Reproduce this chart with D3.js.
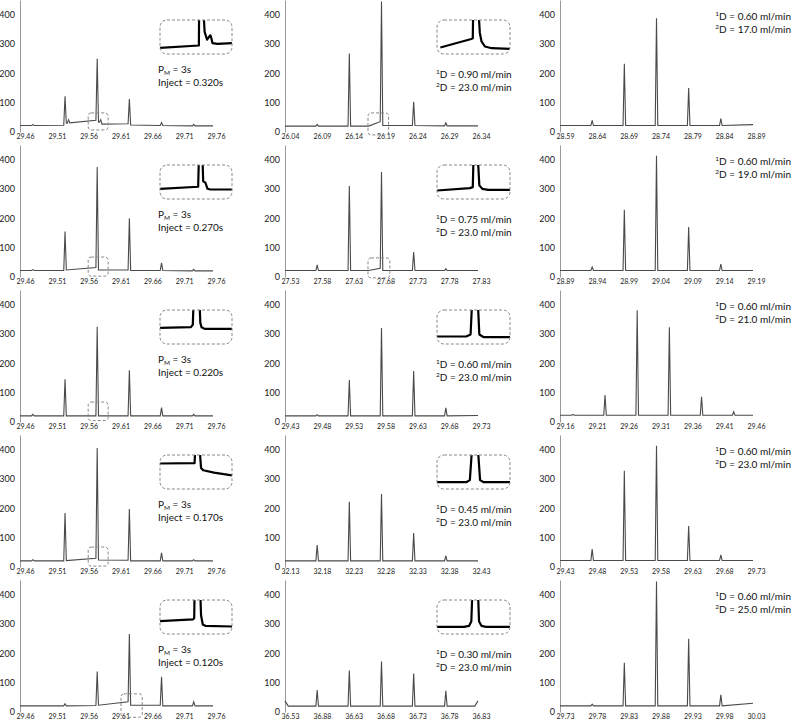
<!DOCTYPE html>
<meta charset="utf-8">
<style>
    body { margin: 0; background: #fff; }
    svg text { font-family: Lato, "Open Sans", sans-serif; fill: #111; }
    .yaxis text { font-size: 9px; fill: #222; }
    .xaxis text { font-family: "Liberation Sans Narrow", Lato, sans-serif; font-size: 7px; fill: #222; }
    .yaxis .domain { stroke: #999; }
    .trace { fill: none; stroke: #4a4a4a; stroke-width: 1.1; }
    .inset-line { fill: none; stroke: #000; stroke-width: 2.2; stroke-linejoin: round; }
    .dash-box { fill: none; stroke: #888; stroke-width: 1; stroke-dasharray: 3,2; }
    .note { font-size: 10px; }
</style>
<body>
<script src="https://d3js.org/d3.v7.min.js"></script>
<script>
// tick values and labels
var yTicks = [0, 100, 200, 300, 400];
var xLabels = [
    ["29.46","29.51","29.56","29.61","29.66","29.71","29.76"],
    ["26.04","26.09","26.14","26.19","26.24","26.29","26.34"],
    ["28.59","28.64","28.69","28.74","28.79","28.84","28.89"],
    ["29.46","29.51","29.56","29.61","29.66","29.71","29.76"],
    ["27.53","27.58","27.63","27.68","27.73","27.78","27.83"],
    ["28.89","28.94","28.99","29.04","29.09","29.14","29.19"],
    ["29.46","29.51","29.56","29.61","29.66","29.71","29.76"],
    ["29.43","29.48","29.53","29.58","29.63","29.68","29.73"],
    ["29.16","29.21","29.26","29.31","29.36","29.41","29.46"],
    ["29.46","29.51","29.56","29.61","29.66","29.71","29.76"],
    ["32.13","32.18","32.23","32.28","32.33","32.38","32.43"],
    ["29.43","29.48","29.53","29.58","29.63","29.68","29.73"],
    ["29.46","29.51","29.56","29.61","29.66","29.71","29.76"],
    ["36.53","36.88","36.63","36.68","36.73","36.78","36.83"],
    ["29.73","29.78","29.83","29.88","29.93","29.98","30.03"]
];

// annotation values
var injectTimes = ["0.320s", "0.270s", "0.220s", "0.170s", "0.120s"];
var flow1D = ["0.90", "0.75", "0.60", "0.45", "0.30"];
var flow2D = ["17.0", "19.0", "21.0", "23.0", "25.0"];

// traces: [time, signal] knots, or [time, apex, left foot, right foot] for a peak
var traceR1C1 = [[29.46,22],[29.48,26,22,22],[29.53,122,23,30],[29.5355,42,30,31],[29.58,250,40,33],[29.5855,42,33,27],[29.63,112,28,24],[29.68,32,22,22],[29.73,26,21,21],[29.76,21]];
var traceR1C2 = [[26.04,20],[26.09,26,20,20],[26.14,268,20,20],[26.17,20],[26.19,445,35,22],[26.24,103,22,22],[26.29,31,21,21],[26.34,21]];
var traceR1C3 = [[28.59,22],[28.64,40,22,22],[28.69,233,22,22],[28.74,388,22,22],[28.79,150,22,22],[28.84,46,22,22],[28.89,25]];
var traceR2C1 = [[29.46,22],[29.48,25,22,22],[29.53,155,22,24],[29.58,375,32,24],[29.63,200,24,22],[29.68,48,22,22],[29.73,26,21,21],[29.76,21]];
var traceR2C2 = [[27.53,22],[27.58,41,22,22],[27.63,310,22,22],[27.66,22],[27.68,358,30,22],[27.73,85,22,22],[27.78,28,22,22],[27.83,22]];
var traceR2C3 = [[28.89,22],[28.94,34,22,22],[28.99,229,22,22],[29.04,413,22,22],[29.09,170,22,22],[29.14,44,22,22],[29.19,22]];
var traceR3C1 = [[29.46,21],[29.48,26,21,21],[29.53,146,21,21],[29.58,325,21,21],[29.63,176,21,21],[29.68,49,21,21],[29.73,26,21,21],[29.76,21]];
var traceR3C2 = [[29.43,21],[29.48,25,21,21],[29.53,143,21,21],[29.58,320,21,21],[29.63,174,21,21],[29.68,48,21,21],[29.73,22]];
var traceR3C3 = [[29.16,23],[29.18,26,23,23],[29.23,92,23,23],[29.28,381,23,23],[29.33,323,23,23],[29.38,86,23,23],[29.43,35,23,23],[29.46,23]];
var traceR4C1 = [[29.46,21],[29.48,25,21,21],[29.53,184,21,22],[29.58,406,30,24],[29.63,198,23,21],[29.68,48,21,21],[29.73,25,21,21],[29.76,21]];
var traceR4C2 = [[32.13,21],[32.18,75,21,21],[32.23,222,21,21],[32.28,249,21,21],[32.33,116,21,21],[32.38,38,21,21],[32.43,21]];
var traceR4C3 = [[29.43,22],[29.48,61,22,22],[29.53,328,22,22],[29.58,413,22,22],[29.63,140,22,22],[29.68,41,22,22],[29.73,22]];
var traceR5C1 = [[29.46,21],[29.53,28,21,21],[29.58,138,22,23],[29.63,266,35,23],[29.68,120,23,21],[29.73,35,21,21],[29.76,21]];
var traceR5C2 = [[36.53,38],[36.535,20],[36.58,75,20,20],[36.63,141,20,20],[36.68,172,20,20],[36.73,131,20,20],[36.78,72,20,20],[36.825,20],[36.83,38]];
var traceR5C3 = [[29.73,21],[29.78,27,21,21],[29.83,168,21,21],[29.88,445,21,21],[29.93,250,21,21],[29.98,59,21,21],[30.03,30]];

// zoomed insets, in percent of the inset box
var insetR1C1 = [[0,18],[54,25],[54.3,120],[60.5,120],[62,65],[65.4,42],[68,50],[70,55],[71.5,45],[72.8,32],[80,30],[100,32]];
var insetR2C1 = [[0,30],[53,36],[54,120],[59,120],[60,52],[63,48],[66,30],[70,28],[100,28]];
var insetR3C1 = [[0,47.5],[43,49.5],[45.6,57],[46.5,120],[55,120],[56,62],[57.7,49.5],[62,44.5],[100,44.5]];
var insetR4C1 = [[0,75],[48,76],[49,120],[55,120],[57,62],[60,55],[75,48],[100,40]];
var insetR5C1 = [[0,38],[46,43],[47.5,47],[48,120],[56,120],[57,55],[59.4,28],[63,24],[100,22]];
var insetR1C2 = [[4.6,19],[47,44],[49,46],[49.5,120],[57,120],[58.7,62],[61,37],[65.6,22],[75,17],[100,15]];
var insetR2C2 = [[0,25],[45,32],[49,35],[50,120],[56,120],[58,40],[62,30],[70,27],[100,27]];
var insetR3C2 = [[0,22],[40,22],[46,28],[48,120],[56,120],[58,28],[64,20],[100,20]];
var insetR4C2 = [[0,20],[40,20],[45,26],[48,120],[56,120],[59,26],[64,20],[100,20]];
var insetR5C2 = [[0,21],[37,21],[44,24],[47,37],[48.4,120],[56.2,120],[57.6,37],[61,24],[67,21],[100,21]];

// zoom windows marked on the main trace: [t0, t1, v0, v1]
var zoomR1C1 = [29.566, 29.597, 7, 65];
var zoomR2C1 = [29.566, 29.597, 3, 68];
var zoomR3C1 = [29.566, 29.597, 5, 68];
var zoomR4C1 = [29.566, 29.597, 3, 68];
var zoomR5C1 = [29.617, 29.650, -18, 62];
var zoomR1C2 = [26.169, 26.201, -10, 65];
var zoomR2C2 = [27.659, 27.693, -3, 65];

var traces = [traceR1C1, traceR1C2, traceR1C3, traceR2C1, traceR2C2, traceR2C3, traceR3C1, traceR3C2, traceR3C3,
              traceR4C1, traceR4C2, traceR4C3, traceR5C1, traceR5C2, traceR5C3];
var insets = [insetR1C1, insetR1C2, null, insetR2C1, insetR2C2, null, insetR3C1, insetR3C2, null,
              insetR4C1, insetR4C2, null, insetR5C1, insetR5C2, null];
var zooms = [zoomR1C1, zoomR1C2, null, zoomR2C1, zoomR2C2, null, zoomR3C1, null, null,
             zoomR4C1, null, null, zoomR5C1, null, null];

// layout
var colX = [0, 265, 530];
var rowY = [0, 145, 290, 435, 580];
var axisX = [20, 20, 30];
var plotW = 193, plotH = 132;
var insetBox = [{x: 160, w: 72}, {x: 172, w: 73}];
var halfW = 0.002;

var svg = d3.select("body").append("svg")
    .attr("width", 793)
    .attr("height", 725);

function expand(raw) {
    var pts = [];
    raw.forEach(function(d) {
        if (d.length === 4) {
            pts.push([d[0] - halfW, d[2]], [d[0], d[1]], [d[0] + halfW, d[3]]);
        } else {
            pts.push(d);
        }
    });
    return pts;
}

function addSup(text, sup, rest) {
    text.append("tspan").attr("font-size", "6.5px").attr("dy", "-4").text(sup);
    text.append("tspan").attr("dy", "4").text(rest);
}

for (var r = 0; r < 5; r++) {
    for (var c = 0; c < 3; c++) {
        var i = r * 3 + c;
        var labels = xLabels[i];
        var x0 = axisX[c];
        var g = svg.append("g")
            .attr("transform", "translate(" + colX[c] + "," + rowY[r] + ")");

        var x = d3.scaleLinear()
            .domain([+labels[0], +labels[6]])
            .range([x0, x0 + plotW]);
        // labels sit a little right of the plotted time positions in the original
        var xp = d3.scalePoint()
            .domain(labels)
            .range([x0 + 5, x0 + plotW + 3]);
        var y = d3.scaleLinear()
            .domain([0, 450])
            .range([plotH, 0]);

        g.append("g")
            .attr("class", "yaxis")
            .attr("transform", "translate(" + x0 + ",0)")
            .call(d3.axisLeft(y).tickValues(yTicks).tickSize(0).tickPadding(5));

        g.append("g")
            .attr("class", "xaxis")
            .attr("transform", "translate(0," + y(0) + ")")
            .call(d3.axisBottom(xp).tickSize(0).tickPadding(2))
            .call(function(a) { a.select(".domain").remove(); });

        g.append("path")
            .datum(expand(traces[i]))
            .attr("class", "trace")
            .attr("d", d3.line()
                .x(function(d) { return x(d[0]); })
                .y(function(d) { return y(d[1]); }));

        if (zooms[i]) {
            var z = zooms[i];
            g.append("rect")
                .attr("class", "dash-box")
                .attr("x", x(z[0]))
                .attr("y", y(z[3]))
                .attr("width", x(z[1]) - x(z[0]))
                .attr("height", y(z[2]) - y(z[3]))
                .attr("rx", 3);
        }

        if (insets[i]) {
            var b = insetBox[c];
            var ix = d3.scaleLinear().domain([0, 100]).range([b.x, b.x + b.w]);
            var iy = d3.scaleLinear().domain([0, 100]).range([54, 20]);
            g.append("clipPath")
                .attr("id", "clip" + i)
                .append("rect")
                .attr("x", b.x).attr("y", 20)
                .attr("width", b.w).attr("height", 34);
            g.append("path")
                .datum(insets[i])
                .attr("class", "inset-line")
                .attr("clip-path", "url(#clip" + i + ")")
                .attr("d", d3.line()
                    .x(function(d) { return ix(d[0]); })
                    .y(function(d) { return iy(d[1]); }));
            g.append("rect")
                .attr("class", "dash-box")
                .attr("x", b.x).attr("y", 20)
                .attr("width", b.w).attr("height", 34)
                .attr("rx", 7);
        }

        // annotations
        if (c === 0) {
            var t1 = g.append("text").attr("class", "note").attr("x", 158).attr("y", 73);
            t1.append("tspan").text("P");
            t1.append("tspan").attr("font-size", "6.5px").attr("dy", "2").text("M");
            t1.append("tspan").attr("dy", "-2").text(" = 3s");
            g.append("text").attr("class", "note").attr("x", 158).attr("y", 86)
                .text("Inject = " + injectTimes[r]);
        } else if (c === 1) {
            addSup(g.append("text").attr("class", "note").attr("x", 171).attr("y", 78),
                "1", "D = " + flow1D[r] + " ml/min");
            addSup(g.append("text").attr("class", "note").attr("x", 171).attr("y", 91),
                "2", "D = 23.0 ml/min");
        } else {
            addSup(g.append("text").attr("class", "note").attr("x", 261).attr("y", 20)
                .attr("text-anchor", "end"), "1", "D = 0.60 ml/min");
            addSup(g.append("text").attr("class", "note").attr("x", 261).attr("y", 33)
                .attr("text-anchor", "end"), "2", "D = " + flow2D[r] + " ml/min");
        }
    }
}
</script>
</body>
